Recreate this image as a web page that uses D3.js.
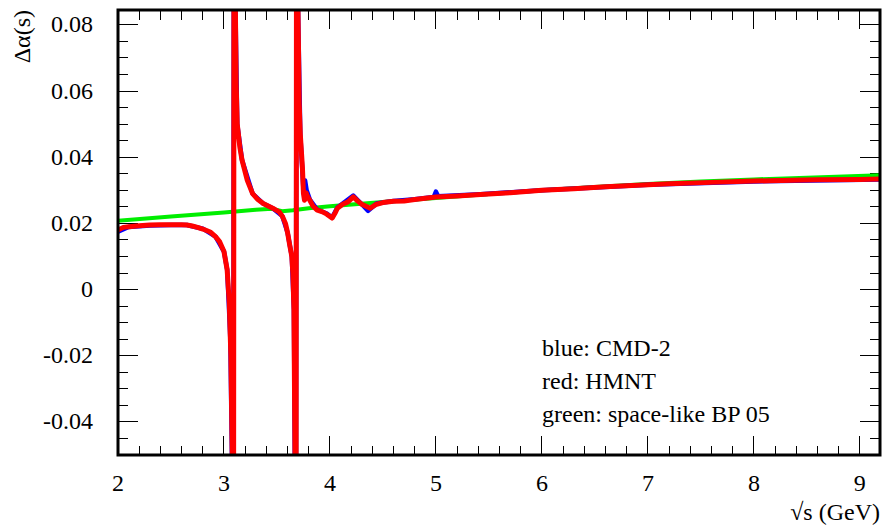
<!DOCTYPE html>
<html>
<head>
<meta charset="utf-8">
<script src="https://cdn.jsdelivr.net/npm/d3@7"></script>
</head>
<body style="margin:0">
<div id="graf"></div>
<script>
// I. Datos
ejeX = [2, 3, 4, 5, 6, 7, 8, 9]
ejeY = [-0.04, -0.02, 0, 0.02, 0.04, 0.06, 0.08]
etiquetasY = ['-0.04', '-0.02', '0', '0.02', '0.04', '0.06', '0.08']

// HMNT (rojo)
rojoX = [2.00, 2.05, 2.10, 2.20, 2.30, 2.40, 2.50, 2.60, 2.65, 2.70, 2.75, 2.80, 2.87, 2.92, 2.96, 3.00, 3.03, 3.05, 3.065, 3.078, 3.088,
         3.098, 3.106, 3.115, 3.125, 3.15, 3.17, 3.22, 3.27, 3.32, 3.37, 3.46, 3.52, 3.55, 3.58, 3.60, 3.62, 3.64, 3.65, 3.66, 3.67, 3.678,
         3.688, 3.696, 3.71, 3.72, 3.74, 3.75, 3.76, 3.775, 3.79, 3.81, 3.84, 3.88, 3.93, 3.97, 4.02, 4.05, 4.07, 4.12, 4.17, 4.22, 4.26,
         4.30, 4.38, 4.44, 4.50, 4.60, 4.70, 4.80, 4.90, 5.00, 5.20, 5.42, 5.70, 6.00, 6.30, 6.60, 7.00, 7.20, 7.60, 8.00, 8.15, 8.60, 9.00, 9.20]
rojoY = [0.0180, 0.0188, 0.0190, 0.0193, 0.0195, 0.0196, 0.0196, 0.0196, 0.0195, 0.0192, 0.0188, 0.0183, 0.0174, 0.0160, 0.0144, 0.0115, 0.0060, -0.0040, -0.0200, -0.0500, -0.2000,
         0.3000, 0.0900, 0.0620, 0.0500, 0.0430, 0.0392, 0.0330, 0.0290, 0.0272, 0.0260, 0.0246, 0.0235, 0.0222, 0.0200, 0.0172, 0.0135, 0.0100, 0.0050, -0.0060, -0.0500, -0.2000,
         0.3000, 0.0900, 0.0560, 0.0470, 0.0370, 0.0290, 0.0270, 0.0292, 0.0280, 0.0270, 0.0252, 0.0240, 0.0235, 0.0228, 0.0216, 0.0232, 0.0246, 0.0258, 0.0265, 0.0280, 0.0268,
         0.0258, 0.0246, 0.0258, 0.0263, 0.0267, 0.0268, 0.0272, 0.0276, 0.0280, 0.0283, 0.0287, 0.0293, 0.0300, 0.0305, 0.0311, 0.0317, 0.0320, 0.0324, 0.0328, 0.0329, 0.0332, 0.0333, 0.0334]

// CMD-2 (azul)
azulX = [2.00, 2.10, 2.30, 2.50, 2.65, 2.80, 2.92, 3.00, 3.03, 3.045, 3.06, 3.075, 3.086,
         3.097, 3.106, 3.125, 3.17, 3.27, 3.37, 3.46, 3.55, 3.60, 3.64, 3.66, 3.668, 3.677,
         3.687, 3.696, 3.72, 3.75, 3.765, 3.78, 3.81, 3.88, 3.97, 4.02, 4.07, 4.12, 4.22, 4.30, 4.36, 4.44, 4.60, 4.80, 4.98, 5.00, 5.02, 5.42, 6.00, 7.00, 8.00, 9.20]
azulY = [0.0175, 0.0189, 0.0194, 0.0195, 0.0195, 0.0184, 0.0160, 0.0115, 0.0060, -0.0040, -0.0150, -0.0500, -0.2000,
         0.3000, 0.0900, 0.0500, 0.0392, 0.0290, 0.0260, 0.0246, 0.0222, 0.0172, 0.0100, -0.0060, -0.0500, -0.2000,
         0.3000, 0.0900, 0.0470, 0.0300, 0.0330, 0.0300, 0.0272, 0.0242, 0.0230, 0.0218, 0.0248, 0.0260, 0.0284, 0.0258, 0.0238, 0.0260, 0.0268, 0.0273, 0.0280, 0.0296, 0.0282, 0.0288, 0.0300, 0.0317, 0.0327, 0.0333]

// space-like BP 05 (verde)
verdeX = [2.0, 2.5, 3.0, 3.3, 3.45, 3.55, 3.65, 3.8, 4.0, 4.5, 5.0, 5.5, 6.0, 6.5, 7.0, 7.5, 8.0, 8.5, 9.2]
verdeY = [0.0208, 0.0221, 0.0233, 0.0241, 0.0244, 0.0237, 0.0240, 0.0246, 0.0252, 0.0265, 0.0277, 0.0289, 0.0300, 0.0310, 0.0319, 0.0327, 0.0333, 0.0338, 0.0346]

leyenda = ['blue: CMD-2', 'red: HMNT', 'green: space-like BP 05']

// II. Configuración
ancho_total = 883
alto_total = 530
margins = { top: 10, left: 118, right: 3, bottom: 75 }
ancho = ancho_total - margins.left - margins.right
alto  = alto_total - margins.top - margins.bottom

svg = d3.select('#graf').append('svg')
        .attr('width', ancho_total)
        .attr('height', alto_total)
        .attr('font-family', 'Times New Roman')
        .style('font-family', '"Times New Roman"')

g = svg.append('g')
       .attr('transform', `translate(${ margins.left }, ${ margins.top })`)

x = d3.scaleLinear().domain([2, 9.19]).range([0, ancho])
y = d3.scaleLinear().domain([-0.05, 0.0845]).range([alto, 0])

// III. Marcas de los ejes (hacia dentro, en los cuatro lados)
menoresX = d3.range(2, 9.2, 0.2)
menoresY = d3.range(-0.05, 0.0846, 0.005)

marcas = g.append('g').attr('stroke', '#000').attr('stroke-width', 1).attr('shape-rendering', 'crispEdges')

menoresX.forEach(v => {
  let mayor = Math.abs(v - Math.round(v)) < 1e-6
  let l = mayor ? 19 : 9.5
  marcas.append('line').attr('x1', x(v)).attr('x2', x(v)).attr('y1', alto).attr('y2', alto - l)
  marcas.append('line').attr('x1', x(v)).attr('x2', x(v)).attr('y1', 0).attr('y2', l)
})
menoresY.forEach(v => {
  let mayor = Math.abs(v / 0.02 - Math.round(v / 0.02)) < 1e-6
  let l = mayor ? 20 : 10
  marcas.append('line').attr('y1', y(v)).attr('y2', y(v)).attr('x1', 0).attr('x2', l)
  marcas.append('line').attr('y1', y(v)).attr('y2', y(v)).attr('x1', ancho).attr('x2', ancho - l)
})

// IV. Curvas
svg.append('clipPath').attr('id', 'recorte')
   .append('rect').attr('width', ancho).attr('height', alto)

curvas = g.append('g').attr('clip-path', 'url(#recorte)')

linea = d3.line().x(d => x(d[0])).y(d => y(d[1]))

function pares(xs, ys) { return xs.map((v, i) => [v, ys[i]]) }

curvas.append('path').datum(pares(verdeX, verdeY))
      .attr('d', linea).attr('fill', 'none').attr('stroke', '#00ee00').attr('stroke-width', 4)

curvas.append('path').datum(pares(azulX, azulY))
      .attr('d', linea).attr('fill', 'none').attr('stroke', '#0000ff').attr('stroke-width', 4.5)
      .attr('stroke-linejoin', 'round')

curvas.append('path').datum(pares(rojoX, rojoY))
      .attr('d', linea).attr('fill', 'none').attr('stroke', '#ff0000').attr('stroke-width', 5)
      .attr('stroke-linejoin', 'round')

// V. Marco
g.append('rect').attr('width', ancho).attr('height', alto)
 .attr('fill', 'none').attr('stroke', '#000').attr('stroke-width', 3)

// VI. Textos
function texto(px, py, t, anchor) {
  return svg.append('text')
            .attr('x', px).attr('y', py)
            .attr('text-anchor', anchor)
            .attr('font-family', 'Times New Roman')
            .style('font-family', '"Times New Roman"')
            .style('font-size', '24px')
            .text(t)
}

ejeX.forEach(v => texto(margins.left + x(v), 491, v, 'middle'))
ejeY.forEach((v, i) => texto(93, margins.top + y(v) + 7.5, etiquetasY[i], 'end'))

texto(880, 520, '√s (GeV)', 'end')
texto(0, 0, 'Δα(s)', 'end').attr('transform', 'translate(30, 10) rotate(-90)')

leyenda.forEach((t, i) => texto(542, 356 + i * 33, t, 'start'))
</script>
</body>
</html>
